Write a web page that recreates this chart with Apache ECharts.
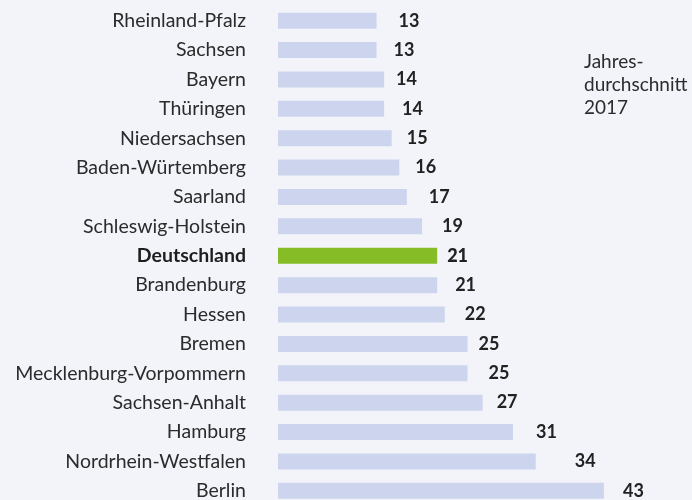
<!DOCTYPE html>
<html>
<head>
<meta charset="utf-8">
<script src="https://cdn.jsdelivr.net/npm/echarts@6/dist/echarts.min.js"></script>
<style>
  html, body { margin: 0; padding: 0; background: #f3f4fa; }
  #chart { width: 692px; height: 500px; }
</style>
</head>
<body>
<div id="chart"></div>
<script>
const laender = [
  'Rheinland-Pfalz', 'Sachsen', 'Bayern', 'Thüringen', 'Niedersachsen',
  'Baden-Würtemberg', 'Saarland', 'Schleswig-Holstein', 'Deutschland',
  'Brandenburg', 'Hessen', 'Bremen', 'Mecklenburg-Vorpommern',
  'Sachsen-Anhalt', 'Hamburg', 'Nordrhein-Westfalen', 'Berlin'
]
const werte = [13, 13, 14, 14, 15, 16, 17, 19, 21, 21, 22, 25, 25, 27, 31, 34, 43]
const hervorgehoben = 'Deutschland'
const anmerkung = ['Jahres-', 'durchschnitt', '2017']

// Abstand der Wertebeschriftung zum Balken (im Original unregelmäßig gesetzt)
const labelAbstand = [22, 17, 12, 18, 15, 16, 22, 20, 10, 18, 20, 11, 21, 14, 23, 39, 19]

const font = 'Lato, "Open Sans", sans-serif'
const chart = echarts.init(document.getElementById('chart'))

const option = {
  backgroundColor: '#f3f4fa',
  animation: false,
  grid: {
    left: 278,
    top: 6,
    width: 379,
    height: 499.5,
    outerBoundsMode: 'none',
  },
  xAxis: {
    type: 'value',
    min: 0,
    max: 50,
    show: false,
  },
  yAxis: {
    type: 'category',
    inverse: true,
    data: laender,
    axisLine: { show: false },
    axisTick: { show: false },
    splitLine: { show: false },
    axisLabel: {
      margin: 32,
      fontFamily: font,
      fontSize: 19.5,
      color: '#2b2b2b',
      formatter: (v) => (v === hervorgehoben ? '{b|' + v + '}' : v),
      rich: {
        b: { fontFamily: font, fontSize: 19.5, fontWeight: 'bold', color: '#1e1e1e' },
      },
    },
  },
  series: [
    {
      type: 'bar',
      barWidth: 16,
      data: werte.map((v, i) => {
        const hl = laender[i] === hervorgehoben
        return {
          value: v,
          itemStyle: { color: hl ? '#86bc25' : '#cdd5ee' },
          label: {
            distance: labelAbstand[i],
            fontWeight: hl ? 900 : 'bold',
          },
        }
      }),
      label: {
        show: true,
        position: 'right',
        fontFamily: font,
        fontSize: 18,
        color: '#222',
      },
    },
  ],
  graphic: [
    {
      type: 'text',
      left: 584,
      top: 50,
      style: {
        text: anmerkung.join('\n'),
        fontFamily: font,
        fontSize: 19,
        lineHeight: 23,
        fill: '#2b2b2b',
      },
    },
  ],
}

chart.setOption(option)
</script>
</body>
</html>
